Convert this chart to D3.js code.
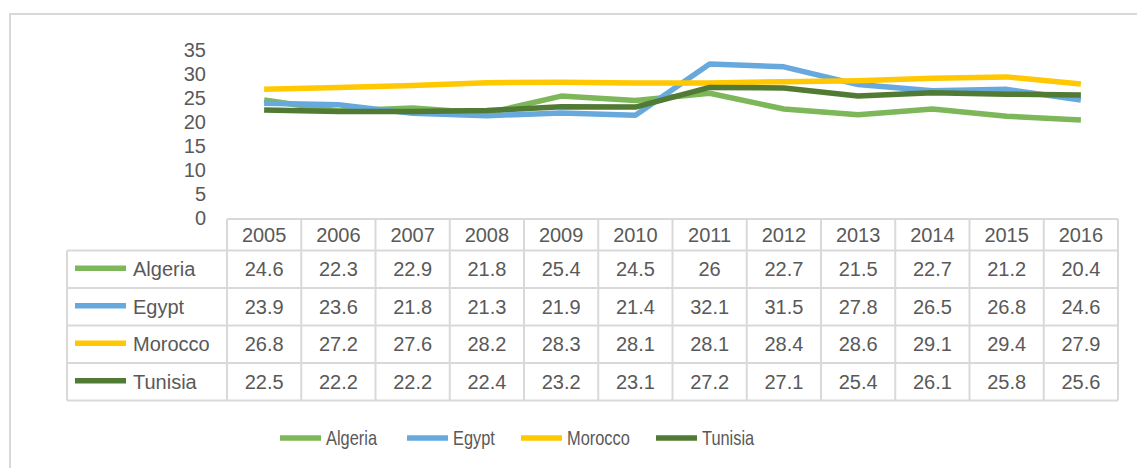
<!DOCTYPE html>
<html>
<head>
<meta charset="utf-8">
<script src="https://cdn.jsdelivr.net/npm/d3@7"></script>
<style>
  html, body { margin: 0; padding: 0; background: #fff; }
  svg { display: block; font-family: "Liberation Sans", Arial, sans-serif; }
</style>
</head>
<body>
<svg id="chart" width="1137" height="468"></svg>
<script>
const years = ["2005","2006","2007","2008","2009","2010","2011","2012","2013","2014","2015","2016"];
const seriesNames = ["Algeria", "Egypt", "Morocco", "Tunisia"];
const algeria = [24.6, 22.3, 22.9, 21.8, 25.4, 24.5, 26, 22.7, 21.5, 22.7, 21.2, 20.4];
const egypt   = [23.9, 23.6, 21.8, 21.3, 21.9, 21.4, 32.1, 31.5, 27.8, 26.5, 26.8, 24.6];
const morocco = [26.8, 27.2, 27.6, 28.2, 28.3, 28.1, 28.1, 28.4, 28.6, 29.1, 29.4, 27.9];
const tunisia = [22.5, 22.2, 22.2, 22.4, 23.2, 23.1, 27.2, 27.1, 25.4, 26.1, 25.8, 25.6];
const yTicks = [0, 5, 10, 15, 20, 25, 30, 35];
const colors = ["#7DB75A", "#67A9DC", "#FFC800", "#517B34"];

const series = [algeria, egypt, morocco, tunisia].map((v, i) => ({ name: seriesNames[i], values: v, color: colors[i] }));

const svg = d3.select("#chart");
const textColor = "#595959";
const gridColor = "#D9D9D9";
const fs = 20;

// outer frame
svg.append("rect").attr("x", 10).attr("y", 14).attr("width", 1140).attr("height", 470)
  .attr("fill", "none").attr("stroke", gridColor).attr("stroke-width", 2);

// scales
const tableLeft = 227, tableRight = 1118;
const x = d3.scaleBand().domain(years).range([tableLeft, tableRight]).padding(0);
const y = d3.scaleLinear().domain([0, 35]).range([218, 50]);

// y axis labels
const yAxis = d3.axisLeft(y).tickValues(yTicks).tickSize(0).tickPadding(0);
const gy = svg.append("g").attr("transform", "translate(206,0)").call(yAxis);
gy.select(".domain").remove();
gy.selectAll("text").attr("font-size", fs).attr("fill", textColor)
  .attr("font-family", "Liberation Sans, Arial, sans-serif");

// lines
const line = d3.line()
  .x((d, i) => x(years[i]) + x.bandwidth() / 2)
  .y(d => y(d));
svg.append("g").selectAll("path").data(series).join("path")
  .attr("d", d => line(d.values))
  .attr("fill", "none")
  .attr("stroke", d => d.color)
  .attr("stroke-width", 5.5)
  .attr("stroke-linejoin", "round")
  .attr("stroke-linecap", "butt");

// data table
const headerTop = 219, headerBottom = 250.5;
const rowH = 37.5;
const rowTops = seriesNames.map((_, i) => headerBottom + i * rowH);
const tableBottom = headerBottom + seriesNames.length * rowH;
const tableOuterLeft = 67;
const tg = svg.append("g").attr("stroke", gridColor).attr("stroke-width", 2);

tg.append("line").attr("x1", tableLeft).attr("x2", tableRight).attr("y1", headerTop).attr("y2", headerTop);
[headerBottom, ...rowTops.slice(1), tableBottom].forEach(yy => {
  tg.append("line").attr("x1", tableOuterLeft).attr("x2", tableRight).attr("y1", yy).attr("y2", yy);
});
tg.append("line").attr("x1", tableOuterLeft).attr("x2", tableOuterLeft).attr("y1", headerBottom).attr("y2", tableBottom);
years.forEach(yr => {
  tg.append("line").attr("x1", x(yr)).attr("x2", x(yr)).attr("y1", headerTop).attr("y2", tableBottom);
});
tg.append("line").attr("x1", tableRight).attr("x2", tableRight).attr("y1", headerTop).attr("y2", tableBottom);

// header text
svg.append("g").selectAll("text").data(years).join("text")
  .attr("x", d => x(d) + x.bandwidth() / 2)
  .attr("y", (headerTop + headerBottom) / 2 + 7)
  .attr("text-anchor", "middle").attr("font-size", fs).attr("fill", textColor)
  .text(d => d);

// rows
series.forEach((s, i) => {
  const cy = rowTops[i] + rowH / 2;
  svg.append("line").attr("x1", 75).attr("x2", 126).attr("y1", cy - 1).attr("y2", cy - 1)
    .attr("stroke", s.color).attr("stroke-width", 5.5);
  svg.append("text").attr("x", 133).attr("y", cy + 7).attr("font-size", fs).attr("fill", textColor).text(s.name);
  svg.append("g").selectAll("text").data(s.values).join("text")
    .attr("x", (d, j) => x(years[j]) + x.bandwidth() / 2)
    .attr("y", cy + 7)
    .attr("text-anchor", "middle").attr("font-size", fs).attr("fill", textColor)
    .text(d => d);
});

// bottom legend
const legendX = [280, 407, 521, 656];
const legendY = 438;
series.forEach((s, i) => {
  svg.append("line").attr("x1", legendX[i]).attr("x2", legendX[i] + 41).attr("y1", legendY).attr("y2", legendY)
    .attr("stroke", s.color).attr("stroke-width", 5.5);
  svg.append("text")
    .attr("transform", `translate(${legendX[i] + 46},${legendY + 7}) scale(0.82,1)`)
    .attr("font-size", fs)
    .attr("fill", textColor).text(s.name);
});
</script>
</body>
</html>
